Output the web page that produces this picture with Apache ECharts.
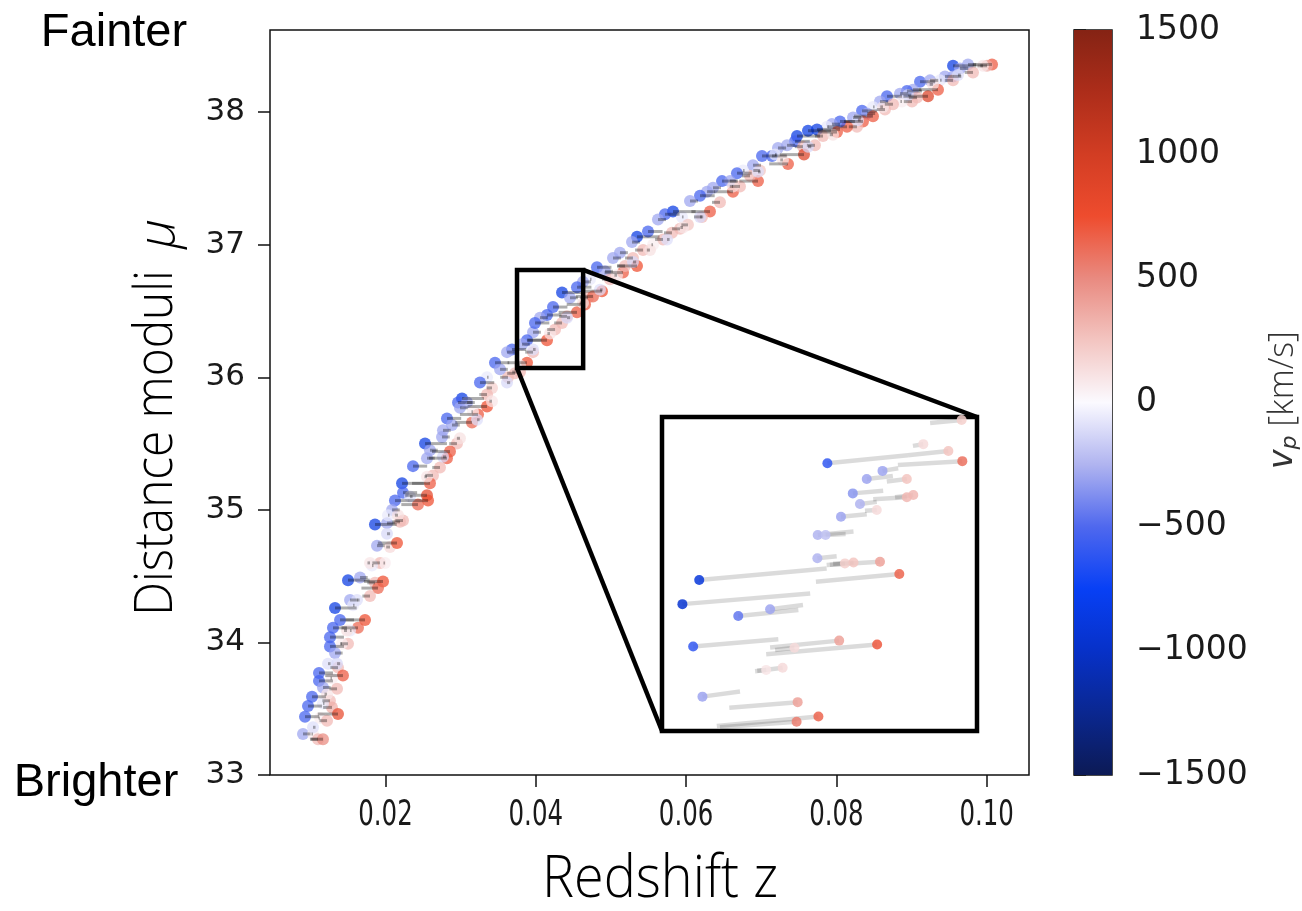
<!DOCTYPE html>
<html>
<head>
<meta charset="utf-8">
<script src="https://cdn.jsdelivr.net/npm/echarts@6/dist/echarts.min.js"></script>
<style>
  html, body { margin: 0; padding: 0; background: #ffffff; }
  #chart { width: 1302px; height: 911px; }
</style>
</head>
<body>
<div id="chart"></div>
<script>
// Hubble diagram of nearby supernovae: observed redshift, distance modulus and peculiar velocity.
const zObs = [
  0.01860, 0.02020, 0.02193, 0.01887, 0.02060, 0.02153, 0.01927, 0.01993, 0.01820, 0.01501,
  0.01661, 0.01860, 0.01967, 0.01900, 0.01794, 0.01528, 0.01328, 0.01568, 0.01727, 0.01395,
  0.01301, 0.01634, 0.01528, 0.01261, 0.01261, 0.01501, 0.01421, 0.01328, 0.01235, 0.01368,
  0.01434, 0.01115, 0.01115, 0.01288, 0.01355, 0.01168, 0.01022, 0.00969, 0.01261, 0.01288,
  0.01168, 0.01368, 0.00929, 0.01128, 0.01222, 0.00902, 0.01035, 0.01102, 0.01168,
  0.03963, 0.03883, 0.03816, 0.03683, 0.03617, 0.03883, 0.03790, 0.03723, 0.03630, 0.03457,
  0.03524, 0.03351, 0.03257, 0.03417, 0.03351, 0.03018, 0.02965, 0.03085, 0.02991, 0.03351,
  0.03231, 0.03151, 0.03164, 0.02818, 0.02885, 0.02765, 0.02752, 0.02951, 0.02858, 0.02818,
  0.02725, 0.02526, 0.02592, 0.02552, 0.02366, 0.02632, 0.02592, 0.02552, 0.02566, 0.02432,
  0.02220, 0.02233, 0.02126, 0.02087, 0.02033, 0.02233, 0.03963, 0.04149,
  0.06478, 0.06358, 0.06278, 0.06185, 0.06451, 0.06318, 0.06212, 0.06052, 0.05826, 0.05719,
  0.05945, 0.06025, 0.05919, 0.05812, 0.05626, 0.05493, 0.05347, 0.05693, 0.05560, 0.05427,
  0.05280, 0.05120, 0.05027, 0.05293, 0.05347, 0.05160, 0.05187, 0.04814, 0.04921, 0.04987,
  0.04881, 0.04721, 0.04628, 0.04548, 0.04349, 0.04455, 0.04695, 0.04655, 0.04761, 0.04548,
  0.04229, 0.04149, 0.04056, 0.03989, 0.04415, 0.04349, 0.04256,
  0.10071, 0.10004, 0.09751, 0.09552, 0.09645, 0.09818, 0.09552, 0.09445, 0.09379, 0.09552,
  0.09352, 0.09219, 0.09113, 0.09246, 0.09019, 0.08939, 0.08846, 0.09073, 0.09006, 0.08873,
  0.08673, 0.08580, 0.08753, 0.08647, 0.08487, 0.08341, 0.08407, 0.08487, 0.08354, 0.08221,
  0.08274, 0.08141, 0.08048, 0.07941, 0.08008, 0.07875, 0.07742, 0.07622, 0.07822, 0.07715,
  0.07476, 0.07449, 0.07343, 0.07556, 0.07569, 0.07356, 0.07223, 0.07143, 0.07010, 0.07183,
  0.06890, 0.06983, 0.06957, 0.06850, 0.06757, 0.06677, 0.06584, 0.06624, 0.06717,
  // faint, nearly at-rest objects along the middle of the band
  0.01035, 0.01222, 0.01355, 0.01488, 0.01621, 0.01794, 0.02020, 0.02166, 0.02326, 0.02552,
  0.02765, 0.02991, 0.03218, 0.03417, 0.03617, 0.03790, 0.03963, 0.04189, 0.04415, 0.04628,
  0.04854, 0.05081, 0.05293, 0.05520, 0.05746, 0.05959, 0.06185, 0.06624, 0.06957, 0.07289,
  0.07622, 0.07955, 0.08287, 0.08620, 0.08953, 0.09285, 0.09618, 0.09951
];
const muObs = [
  34.89, 34.90, 34.91, 34.73, 34.72, 34.75, 34.60, 34.60, 34.58, 34.47,
  34.49, 34.45, 34.46, 34.41, 34.35, 34.32, 34.26, 34.28, 34.17, 34.17,
  34.11, 34.11, 34.09, 34.04, 33.97, 33.99, 33.99, 33.92, 33.84, 33.81,
  33.75, 33.77, 33.71, 33.73, 33.65, 33.66, 33.59, 33.52, 33.56, 33.51,
  33.54, 33.46, 33.44, 33.43, 33.41, 33.31, 33.31, 33.27, 33.27,
  36.34, 36.28, 36.25, 36.21, 36.19, 36.11, 36.04, 36.03, 36.00, 36.11,
  36.06, 36.00, 35.96, 35.92, 35.87, 35.84, 35.81, 35.81, 35.77, 35.78,
  35.72, 35.66, 35.74, 35.69, 35.64, 35.60, 35.55, 35.50, 35.44, 35.39,
  35.32, 35.50, 35.45, 35.39, 35.33, 35.26, 35.20, 35.11, 35.07, 35.04,
  35.20, 35.13, 35.07, 35.00, 34.96, 34.92, 36.19, 36.28,
  37.48, 37.43, 37.40, 37.37, 37.32, 37.25, 37.21, 37.33, 37.25, 37.23,
  37.21, 37.15, 37.12, 37.09, 37.19, 37.10, 37.06, 37.04, 37.00, 36.96,
  37.02, 36.94, 36.90, 36.90, 36.84, 36.79, 36.84, 36.83, 36.80, 36.74,
  36.65, 36.74, 36.72, 36.68, 36.64, 36.60, 36.60, 36.55, 36.61, 36.49,
  36.53, 36.47, 36.45, 36.41, 36.46, 36.41, 36.36,
  38.36, 38.35, 38.36, 38.35, 38.33, 38.30, 38.27, 38.27, 38.24, 38.24,
  38.17, 38.12, 38.23, 38.24, 38.17, 38.16, 38.14, 38.11, 38.08, 38.08,
  38.12, 38.08, 38.06, 38.02, 38.04, 38.01, 37.99, 37.97, 37.93, 37.96,
  37.89, 37.89, 37.93, 37.91, 37.85, 37.89, 37.87, 37.86, 37.82, 37.75,
  37.82, 37.78, 37.75, 37.74, 37.68, 37.61, 37.73, 37.67, 37.67, 37.68,
  37.60, 37.56, 37.48, 37.52, 37.56, 37.54, 37.48, 37.40, 37.44,
  33.36, 33.61, 33.84, 34.09, 34.32, 34.60, 34.82, 34.96, 35.10, 35.25,
  35.40, 35.54, 35.68, 35.82, 35.96, 36.09, 36.21, 36.33, 36.45, 36.56,
  36.66, 36.77, 36.87, 36.96, 37.04, 37.13, 37.21, 37.44, 37.55, 37.64,
  37.74, 37.83, 37.94, 38.04, 38.13, 38.21, 38.28, 38.35
];
const vPec = [
  -850, -300, 300, -300, 150, 750, 300, 60, -60, -850,
  -300, 300, 750, 650, 300, -300, -850, -60, 750, -550,
  -550, 650, -60, -550, -550, 300, 60, -300, -100, 300,
  700, -550, -550, 60, 300, -300, -550, -550, 300, 350,
  -60, 800, -550, 60, 300, -300, 60, 300, 500,
  -300, -550, -300, -550, -300, 750, 300, 300, 300, -550,
  -300, -60, -550, 200, 300, -850, -550, -300, -300, 750,
  700, 650, 60, -550, -300, -300, -300, 300, 700, 700,
  300, -850, -300, -300, -550, 300, 700, 850, 750, 650,
  -850, -550, -550, -300, -60, 300, 300, 750,
  -550, -300, -300, -550, 300, 700, 300, -300, -850, -550,
  -60, 250, 300, 300, -300, -550, -850, 300, 60, 300,
  -300, -300, -300, 300, 750, 700, 300, -550, -300, 300,
  750, -60, -300, -550, -850, -300, 300, 700, 650, 700,
  -550, -550, -300, -550, 300, 300, 300,
  700, 350, -300, -850, -300, 300, -300, -300, -60, 300,
  700, 900, -550, -300, -300, -550, -300, 300, 300, 60,
  -550, -300, 300, 300, -60, -550, -300, 700, 700, -300,
  300, 700, -550, -300, 700, -60, -850, -850, 300, 300,
  -850, -550, -300, 300, 900, 700, -300, -550, -550, -60,
  -300, 250, 700, 300, -60, -550, -300, 700, 300,
  -100, 100, -120, 120, -100, 100, -120, 120, -100, 100,
  -120, 120, -100, 100, -120, 120, -100, 100, -120, 120,
  -100, 100, -120, 120, -100, 100, -120, 120, -100, 100,
  -120, 120, -100, 100, -120, 120, -100, 100
];

// Close-up panel: supernovae near z = 0.04 with the segment to their cosmological redshift.
const insetZ = [
  0.04587, 0.04550, 0.04480, 0.04212, 0.04589, 0.04366, 0.04322, 0.04434, 0.04283, 0.04452,
  0.04434, 0.04303, 0.04350, 0.04250, 0.04185, 0.04207, 0.04184, 0.04261, 0.04285, 0.04359,
  0.03854, 0.04413, 0.03807, 0.04052, 0.03963, 0.03837, 0.04245, 0.04351, 0.04120, 0.04087,
  0.04041, 0.03863, 0.04129, 0.04187, 0.04126
];
const insetMu = [
  36.803, 36.730, 36.746, 36.701, 36.706, 36.683, 36.664, 36.664, 36.630, 36.626,
  36.621, 36.605, 36.591, 36.575, 36.532, 36.532, 36.477, 36.465, 36.467, 36.469,
  36.426, 36.440, 36.369, 36.357, 36.341, 36.269, 36.283, 36.274, 36.266, 36.219,
  36.214, 36.151, 36.138, 36.104, 36.092
];
const insetV = [
  200, 250, 150, -600, 600, -300, -300, 250, -350, 300,
  300, -250, 150, -300, -250, -200, -250, 200, 250, 400,
  -900, 650, -950, -300, -450, -600, 400, 700, 150, 150,
  100, -300, 400, 650, 550
];
const insetZEnd = [
  0.04499, 0.04437, 0.04451, 0.04437, 0.04409, 0.04410, 0.04395, 0.04378, 0.04368, 0.04401,
  0.04340, 0.04350, 0.04317, 0.04322, 0.04285, 0.04263, 0.04238, 0.04219, 0.04228, 0.04210,
  0.04210, 0.04180, 0.04164, 0.04144, 0.04131, 0.04075, 0.04052, 0.04041, 0.04066, 0.04010,
  0.04016, 0.03968, 0.03938, 0.03903, 0.03912
];
const insetMuEnd = [
  36.796, 36.720, 36.742, 36.720, 36.697, 36.689, 36.671, 36.658, 36.636, 36.621,
  36.616, 36.610, 36.589, 36.581, 36.540, 36.534, 36.482, 36.462, 36.464, 36.461,
  36.453, 36.422, 36.394, 36.367, 36.355, 36.286, 36.267, 36.251, 36.261, 36.211,
  36.212, 36.163, 36.125, 36.082, 36.079
];

const xTicks = [0.02, 0.04, 0.06, 0.08, 0.10];
const yTicks = [33, 34, 35, 36, 37, 38];
const cbarTicks = [-1500, -1000, -500, 0, 500, 1000, 1500];
const zoomZ = [0.0375, 0.0463];
const zoomMu = [36.07, 36.81];

// diverging velocity colour scale, -1500 ... +1500 km/s in 250 km/s steps
const velColors = [
  '#0c1a55', '#0a2790', '#0731c8', '#0840f5', '#4f68ee', '#b0b4f0', '#fbfaff',
  '#f3c5c1', '#e98a80', '#ee4c2e', '#d23d23', '#ad2d1a', '#852314'
];

const C_KMS = 299792.458;

const mainPts = zObs.map((z, i) => [z, muObs[i], vPec[i]]);
// each supernova is joined to its cosmological redshift: 1 + z_obs = (1 + z_cos)(1 + v/c)
const mainSegs = zObs.map((z, i) => [z, muObs[i], (1 + z) / (1 + vPec[i] / C_KMS) - 1, muObs[i]]);
const insetPts = insetZ.map((z, i) => [z, insetMu[i], insetV[i]]);
const insetSegs = insetZ.map((z, i) => [z, insetMu[i], insetZEnd[i], insetMuEnd[i]]);

const minus = v => (v < 0 ? '\u2212' + Math.abs(v) : String(v));

function segRenderer(stroke, width) {
  return function (params, api) {
    const a = api.coord([api.value(0), api.value(1)]);
    const b = api.coord([api.value(2), api.value(3)]);
    return {
      type: 'line',
      shape: { x1: a[0], y1: a[1], x2: b[0], y2: b[1] },
      style: { stroke: stroke, lineWidth: width, lineCap: 'butt' }
    };
  };
}

const chart = echarts.init(document.getElementById('chart'), null, { renderer: 'canvas' });

const tickFont = "'DejaVu Sans', sans-serif";

const option = {
  backgroundColor: '#ffffff',
  animation: false,
  grid: [
    { left: 270, top: 30, width: 759, height: 745, show: true, borderColor: '#111', borderWidth: 1.5, backgroundColor: 'transparent' },
    { left: 662, top: 417, width: 315, height: 314, show: true, borderColor: '#000', borderWidth: 4.5, backgroundColor: '#ffffff', z: 5 },
    { left: 1074, top: 30, width: 38, height: 745, show: true, borderColor: '#111', borderWidth: 1.5, backgroundColor: 'transparent' }
  ],
  xAxis: [
    {
      gridIndex: 0, type: 'value', min: 0.00463, max: 0.10563,
      axisLine: { show: false },
      splitLine: { show: false },
      axisTick: { show: true, length: 12, lineStyle: { color: '#111', width: 1.5 }, customValues: xTicks },
      axisLabel: { show: false }
    },
    { gridIndex: 1, type: 'value', min: zoomZ[0], max: zoomZ[1], show: false },
    { gridIndex: 2, type: 'value', min: 0, max: 1, show: false }
  ],
  yAxis: [
    {
      gridIndex: 0, type: 'value', min: 33, max: 38.62,
      axisLine: { show: false },
      splitLine: { show: false },
      axisTick: { show: true, length: 12, lineStyle: { color: '#111', width: 1.5 }, customValues: yTicks },
      axisLabel: { customValues: yTicks, formatter: v => String(v), fontFamily: tickFont, fontSize: 31, color: '#1a1a1a', margin: 25 }
    },
    { gridIndex: 1, type: 'value', min: zoomMu[0], max: zoomMu[1], show: false },
    {
      gridIndex: 2, type: 'value', position: 'right', min: -1500, max: 1500, interval: 500,
      axisLine: { show: false },
      splitLine: { show: false },
      axisTick: { show: true, length: 12, lineStyle: { color: '#111', width: 1.5 } },
      axisLabel: { formatter: minus, fontFamily: tickFont, fontSize: 33, color: '#1a1a1a', margin: 24 }
    }
  ],
  visualMap: [{
    type: 'continuous', show: false, min: -1500, max: 1500, dimension: 2,
    seriesIndex: [0, 4], inRange: { color: velColors }
  }],
  series: [
    {
      type: 'scatter', xAxisIndex: 0, yAxisIndex: 0, data: mainPts,
      symbolSize: 12, itemStyle: { opacity: 0.72 }, z: 2
    },
    {
      type: 'custom', xAxisIndex: 0, yAxisIndex: 0, data: mainSegs,
      encode: { x: [0, 2], y: [1, 3] },
      renderItem: segRenderer('rgba(0,0,0,0.32)', 3), z: 3
    },
    {
      type: 'custom', xAxisIndex: 0, yAxisIndex: 0, data: [[zoomZ[0], zoomMu[0], zoomZ[1], zoomMu[1]]],
      encode: { x: [0, 2], y: [1, 3] },
      renderItem: function (params, api) {
        const a = api.coord([api.value(0), api.value(3)]);
        const b = api.coord([api.value(2), api.value(1)]);
        return {
          type: 'rect',
          shape: { x: a[0], y: a[1], width: b[0] - a[0], height: b[1] - a[1] },
          style: { fill: 'none', stroke: '#000', lineWidth: 4.5 }
        };
      },
      z: 4
    },
    {
      type: 'custom', xAxisIndex: 1, yAxisIndex: 1, data: insetSegs, clip: true,
      encode: { x: [0, 2], y: [1, 3] },
      renderItem: segRenderer('rgba(0,0,0,0.14)', 4.5), z: 6
    },
    {
      type: 'scatter', xAxisIndex: 1, yAxisIndex: 1, data: insetPts, clip: true,
      symbolSize: 10, itemStyle: { opacity: 0.85 }, z: 7
    },
    {
      type: 'custom', xAxisIndex: 2, yAxisIndex: 2,
      data: [[0, cbarTicks[cbarTicks.length - 1], 1, cbarTicks[0]]],
      encode: { x: [0, 2], y: [1, 3] },
      renderItem: function (params, api) {
        const a = api.coord([api.value(0), api.value(1)]);
        const b = api.coord([api.value(2), api.value(3)]);
        const stops = velColors.slice().reverse().map((c, i, arr) => ({ offset: i / (arr.length - 1), color: c }));
        return {
          type: 'rect',
          shape: { x: a[0], y: a[1], width: b[0] - a[0], height: b[1] - a[1] },
          style: { fill: new echarts.graphic.LinearGradient(0, 0, 0, 1, stops) }
        };
      },
      z: 1
    }
  ]
};

chart.setOption(option);

// connector lines from the zoom rectangle to the close-up panel
const boxTR = chart.convertToPixel({ gridIndex: 0 }, [zoomZ[1], zoomMu[1]]);
const boxBL = chart.convertToPixel({ gridIndex: 0 }, [zoomZ[0], zoomMu[0]]);
const insTR = chart.convertToPixel({ gridIndex: 1 }, [zoomZ[1], zoomMu[1]]);
const insBL = chart.convertToPixel({ gridIndex: 1 }, [zoomZ[0], zoomMu[0]]);

// redshift tick labels in a narrow face, placed through the x scale
const xLabelEls = xTicks.map(t => {
  const p = chart.convertToPixel({ gridIndex: 0 }, [t, 33]);
  return {
    type: 'text', x: p[0], y: p[1] + 41, scaleX: 0.68,
    style: { text: t.toFixed(2), font: "36px 'DejaVu Sans', sans-serif", fill: '#1a1a1a', textAlign: 'center', textVerticalAlign: 'middle' }
  };
});

chart.setOption({
  graphic: [
    { type: 'line', shape: { x1: boxTR[0], y1: boxTR[1], x2: insTR[0], y2: insTR[1] }, style: { stroke: '#000', lineWidth: 4.5 }, z: 10 },
    { type: 'line', shape: { x1: boxBL[0], y1: boxBL[1], x2: insBL[0], y2: insBL[1] }, style: { stroke: '#000', lineWidth: 4.5 }, z: 10 },
    ...xLabelEls,
    { type: 'text', x: 114, y: 33, style: { text: 'Fainter', font: "47px 'Liberation Sans', Arial, sans-serif", fill: '#000', textAlign: 'center', textVerticalAlign: 'middle' } },
    { type: 'text', x: 96, y: 783, style: { text: 'Brighter', font: "47px 'Liberation Sans', Arial, sans-serif", fill: '#000', textAlign: 'center', textVerticalAlign: 'middle' } },
    { type: 'text', x: 157, y: 443, rotation: Math.PI / 2, scaleX: 0.9, style: { text: 'Distance moduli', font: "300 53px 'Open Sans', sans-serif", fill: '#000', textAlign: 'center', textVerticalAlign: 'middle' } },
    { type: 'text', x: 160, y: 234, rotation: Math.PI / 2, style: { text: '\u03bc', font: "italic 300 52px 'Open Sans', sans-serif", fill: '#000', textAlign: 'center', textVerticalAlign: 'middle' } },
    { type: 'text', x: 660, y: 880, scaleX: 0.93, style: { text: 'Redshift z', font: "300 58px 'Open Sans', sans-serif", fill: '#000', textAlign: 'center', textVerticalAlign: 'middle' } },
    { type: 'text', x: 1283, y: 400, rotation: Math.PI / 2, style: {
        text: '{i|v}{s|p} [km/s]', textAlign: 'center', textVerticalAlign: 'middle', fill: '#333',
        font: "300 34px 'Open Sans', sans-serif",
        rich: {
          i: { fontStyle: 'italic', fontFamily: 'DejaVu Sans', fontSize: 33, fill: '#333' },
          s: { fontStyle: 'italic', fontFamily: 'DejaVu Sans', fontSize: 22, fill: '#333', padding: [14, 0, 0, 0] }
        }
      } }
  ]
});
</script>
</body>
</html>
